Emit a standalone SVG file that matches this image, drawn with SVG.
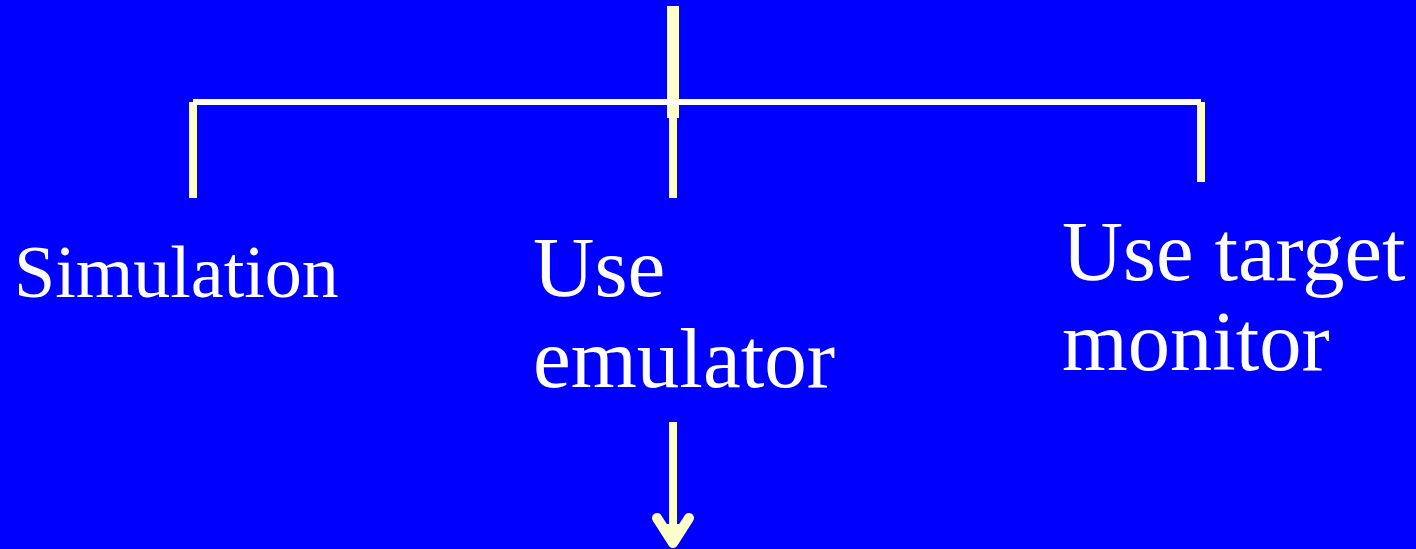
<svg xmlns="http://www.w3.org/2000/svg" width="1416" height="549" viewBox="0 0 1416 549">
  <style>
    .lbl { font-family: "Liberation Serif", "Times New Roman", serif; fill: #FFFFFF; }
    .y { fill: #FFFFCC; }
    .w { fill: #FFFFFF; }
  </style>
  <rect width="1416" height="549" fill="#0000FF"/>
  <g id="connectors">
    <rect class="y" x="667" y="6" width="12" height="112"/>
    <rect class="y" x="189" y="102" width="8" height="96"/>
    <rect class="y" x="669" y="118" width="8" height="80"/>
    <rect class="w" x="193" y="99" width="1008" height="6"/>
    <rect class="y" x="1197" y="102" width="8" height="80"/>
    <rect class="y" x="669" y="422" width="8" height="118"/>
    <path d="M657,518 L673,543 L689,518" fill="none" stroke="#FFFFCC" stroke-width="10" stroke-linecap="round" stroke-linejoin="round"/>
    <path d="M662,524 L673,547 L684,524 Z" fill="#FFFFCC"/>
  </g>
  <g id="node-simulation">
    <text class="lbl" x="14" y="297" font-size="74">Simulation</text>
  </g>
  <g id="node-emulator">
    <text class="lbl" x="533" y="296" font-size="85">Use</text>
    <text class="lbl" x="533" y="387" font-size="85">emulator</text>
  </g>
  <g id="node-monitor">
    <text class="lbl" x="1062" y="280" font-size="84.5">Use target</text>
    <text class="lbl" x="1062" y="370" font-size="84.5">monitor</text>
  </g>
</svg>
